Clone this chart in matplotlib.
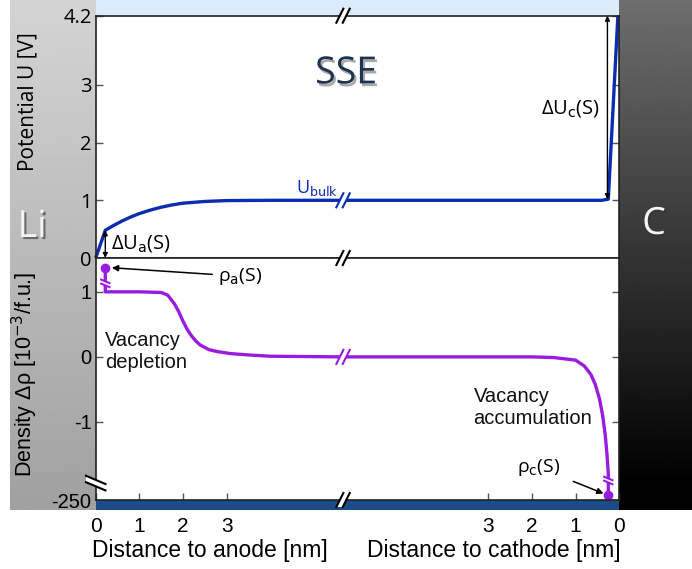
import numpy as np
import matplotlib
matplotlib.use("Agg")
import matplotlib.pyplot as plt
import matplotlib.patheffects as pe
from matplotlib.transforms import IdentityTransform

# ---------------------------
# datos
# ---------------------------
X_LEN = 12.0      # eje x: distancia al anodo ... (X_LEN - distancia al catodo)
X_BREAK = 5.67    # posicion del corte "//"

# potencial, lado anodo
anode_x = [0, 0.22, 0.4, 0.6, 0.8, 1.0, 1.25, 1.5, 1.75, 2.0, 2.5, 3.0, 4.0, 5.67]
u_anode = [0, 0.48, 0.56, 0.64, 0.71, 0.77, 0.83, 0.88, 0.92, 0.95, 0.98, 0.995, 1.0, 1.0]
# potencial, lado catodo (distancia al catodo)
cath_d_u = [6.33, 3.0, 1.0, 0.4, 0.25, 0.03]
u_cath = [1.0, 1.0, 1.0, 1.0, 1.02, 4.2]

# densidad (escala con corte: -2.2 <-> -250)
rho_anode_x = [0.22, 0.5, 1.0, 1.5, 1.65, 1.8, 1.9, 2.0, 2.1, 2.2, 2.3, 2.4, 2.6, 2.8, 3.1, 3.5, 4.0, 5.67]
rho_anode = [1.0, 1.0, 1.0, 0.99, 0.95, 0.82, 0.7, 0.55, 0.42, 0.32, 0.24, 0.18, 0.11, 0.08, 0.05, 0.03, 0.01, 0.0]
rho_cath_d = [6.33, 3.0, 2.0, 1.5, 1.0, 0.8, 0.65, 0.55, 0.45, 0.38, 0.32, 0.28, 0.25]
rho_cath = [0, 0, 0, -0.01, -0.05, -0.14, -0.27, -0.42, -0.65, -0.9, -1.2, -1.5, -1.8]
rho_a_surface = (0.22, 1.37)
rho_c_surface = (0.25, -2.12)

u_ticks = [0, 1, 2, 3, 4.2]
u_ticklabels = ["0", "1", "2", "3", "4.2"]
rho_ticks = [-2.2, -1, 0, 1]
rho_ticklabels = ["-250", "-1", "0", "1"]
x_ticks = [0, 1, 2, 3, 9, 10, 11, 12]
x_ticklabels = ["0", "1", "2", "3", "3", "2", "1", "0"]

BLUE = "#0c2db0"
PURPLE = "#9a1be0"
OPEN = ["Open Sans", "DejaVu Sans"]
ARIAL = ["Liberation Sans", "DejaVu Sans"]

W, H = 692, 569
fig = plt.figure(figsize=(W / 100, H / 100), dpi=100)

# --- fondo: Li, C, franjas ---
bg = fig.add_axes([0, 0, 1, 1], zorder=-5)
bg.set_xlim(0, W)
bg.set_ylim(H, 0)
bg.axis("off")
g = np.linspace(0, 1, 256).reshape(-1, 1)
bg.imshow(0.83 - 0.2 * g, cmap="gray", vmin=0, vmax=1, aspect="auto",
          extent=[10, 96, 510, 0])
bg.imshow(np.clip(0.43 * (1 - g * 1.05), 0, 1), cmap="gray", vmin=0, vmax=1,
          aspect="auto", extent=[619, W, 510, 0])
bg.fill_between([96, 619], 0, 16, color="#dcebf9", lw=0)
bg.fill_between([96, 619], 500, 510, color="#1b4b88", lw=0)

shadow = [pe.SimplePatchShadow(offset=(1.5, -1.5), shadow_rgbFace="#333333", alpha=0.6),
          pe.Normal()]
bg.text(32, 227, "Li", fontsize=27, color="#f4f4f4", family=OPEN,
        ha="center", va="center", path_effects=shadow)
bg.text(654, 224, "C", fontsize=27, color="#f4f4f4", family=OPEN,
        ha="center", va="center", path_effects=shadow)

# --- ejes ---
x0, wd = 95.7 / W, 523.5 / W
ax1 = fig.add_axes([x0, 1 - 258 / H, wd, 242.3 / H])
ax2 = fig.add_axes([x0, 1 - 500 / H, wd, 242 / H])

for ax in (ax1, ax2):
    ax.set_xlim(0, X_LEN)
    for s in ax.spines.values():
        s.set_linewidth(1.2)
        s.set_color("#222222")
    ax.tick_params(direction="in", length=5, width=1, color="#555555",
                   right=True, top=False, pad=3)

ax1.set_ylim(0, 4.2)
ax2.set_ylim(-2.2, 1.52)
ax1.set_xticks([])
ax1.set_yticks(u_ticks, u_ticklabels, fontsize=14.5, family=OPEN)
ax2.set_yticks(rho_ticks, rho_ticklabels, fontsize=14.5, family=ARIAL)
ax2.set_xticks(x_ticks, x_ticklabels, fontsize=15, family=ARIAL)
ax2.tick_params(axis="x", pad=12)

ax1.set_ylabel("Potential U [V]", fontsize=15, family=OPEN)
ax1.yaxis.set_label_coords(-0.11, 0.645)
ax2.set_ylabel("Density Δρ [10$^{-3}$/f.u.]", fontsize=15.5, family=ARIAL)
ax2.yaxis.set_label_coords(-0.106, 0.52)
fig.text(210 / W, 1 - 550 / H, "Distance to anode [nm]", fontsize=16.5,
         family=ARIAL, ha="center", va="center")
fig.text(494 / W, 1 - 550 / H, "Distance to cathode [nm]", fontsize=16.5,
         family=ARIAL, ha="center", va="center")

# --- curvas ---
ux = list(anode_x) + [X_LEN - d for d in cath_d_u]
uy = list(u_anode) + list(u_cath)
ax1.plot(ux, uy, color=BLUE, lw=2.4, solid_capstyle="butt", clip_on=False)

rx = [rho_a_surface[0]] + list(rho_anode_x) + [X_LEN - d for d in rho_cath_d] + [X_LEN - rho_c_surface[0]]
ry = [rho_a_surface[1]] + list(rho_anode) + list(rho_cath) + [rho_c_surface[1]]
ax2.plot(rx, ry, color=PURPLE, lw=2.4)
ax2.plot([rho_a_surface[0], X_LEN - rho_c_surface[0]],
         [rho_a_surface[1], rho_c_surface[1]], "o", color=PURPLE, ms=6, ls="none")

# --- textos ---
ax1.text(5.74, 3.2, "SSE", fontsize=27, color="#1d3352", family=OPEN,
         ha="center", va="center", path_effects=[
             pe.SimplePatchShadow(offset=(1.5, -2), shadow_rgbFace="#555555", alpha=0.5),
             pe.Normal()])
ax1.text(5.55, 1.04, "U$_{\\rm bulk}$", fontsize=13, color=BLUE, family=OPEN,
         ha="right", va="bottom")
ax1.annotate("", xy=(0.22, 0.0), xytext=(0.22, 0.48),
             arrowprops=dict(arrowstyle="<|-|>", color="black", lw=1, mutation_scale=7,
                             shrinkA=0, shrinkB=0))
ax1.text(0.36, 0.26, "ΔU$_{\\rm a}$(S)", fontsize=14.5, family=OPEN, va="center")
ax1.annotate("", xy=(11.73, 1.02), xytext=(11.73, 4.2),
             arrowprops=dict(arrowstyle="<|-|>", color="black", lw=1, mutation_scale=7,
                             shrinkA=0, shrinkB=0))
ax1.text(11.55, 2.6, "ΔU$_{\\rm c}$(S)", fontsize=14.5, family=OPEN,
         va="center", ha="right")

ax2.annotate("ρ$_{\\rm a}$(S)", xy=(0.37, 1.37), xytext=(2.8, 1.24),
             fontsize=14, family=OPEN, va="center",
             arrowprops=dict(arrowstyle="-|>", color="black", lw=1.1,
                             mutation_scale=9, shrinkA=2, shrinkB=0))
ax2.annotate("ρ$_{\\rm c}$(S)", xy=(11.64, -2.1), xytext=(10.15, -1.7),
             fontsize=14, family=OPEN, va="center", ha="center",
             arrowprops=dict(arrowstyle="-|>", color="black", lw=1.1,
                             mutation_scale=9, shrinkA=8, shrinkB=0))
ax2.text(0.22, 0.08, "Vacancy\ndepletion", fontsize=14.5, family=ARIAL,
         va="center", linespacing=1.2, color="#111111")
ax2.text(8.66, -0.78, "Vacancy\naccumulation", fontsize=14.5, family=ARIAL,
         va="center", linespacing=1.2, color="#111111")

# --- marcas de corte "//" (en pixeles) ---
def break_mark(ax, x, y, color="black", horiz=False, size=7, gap=3.2):
    px, py = ax.transData.transform((x, y))
    if horiz:
        a = np.array([[-size * 1.3, size * 0.55], [size * 1.3, -size * 0.55]])
        off = np.array([0, gap])
    else:
        a = np.array([[-size * 0.5, -size], [size * 0.5, size]])
        off = np.array([gap, 0])
    c = np.array([px, py])
    p1 = a + c - off
    p2 = a + c + off
    poly = np.array([p1[0], p2[0], p2[1], p1[1]])
    fig.patches.append(plt.Polygon(poly, closed=True, color="white", lw=0,
                                   transform=IdentityTransform(), zorder=10))
    for p in (p1, p2):
        fig.lines.append(plt.Line2D(p[:, 0], p[:, 1], color=color, lw=1.5,
                                    transform=IdentityTransform(), zorder=11))

fig.canvas.draw()
break_mark(ax1, X_BREAK, 4.2)
break_mark(ax1, X_BREAK, 1.0, color=BLUE)
break_mark(ax1, X_BREAK, 0.0)
break_mark(ax2, X_BREAK, 0.0, color=PURPLE)
break_mark(ax2, X_BREAK, -2.2)
break_mark(ax2, 0.0, -1.94, horiz=True, size=7.5)
break_mark(ax2, rho_a_surface[0], 1.13, color=PURPLE, horiz=True, size=3.2, gap=2)
break_mark(ax2, X_LEN - rho_c_surface[0], -1.9, color=PURPLE, horiz=True, size=3.2, gap=2)

fig.savefig("out.png", dpi=100)
